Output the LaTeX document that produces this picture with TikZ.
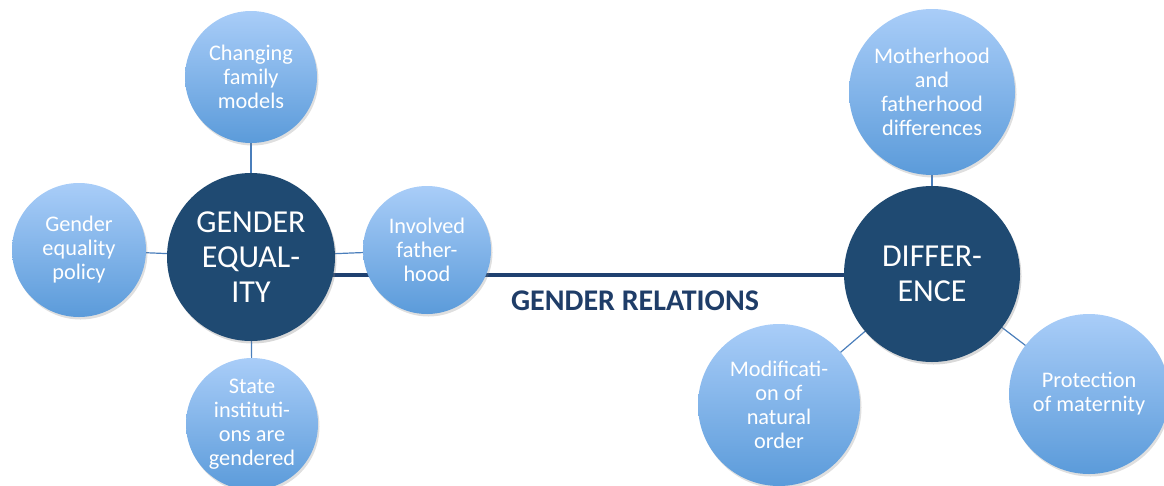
\documentclass[tikz,border=0pt]{standalone}
\usepackage{fontspec}
\setmainfont{Carlito}
\usetikzlibrary{shadows,backgrounds}
\definecolor{navy}{HTML}{1F4A72}
\definecolor{navyline}{HTML}{1F4170}
\definecolor{navytext}{HTML}{1F3D68}
\definecolor{lighttop}{HTML}{A9CDF8}
\definecolor{lightbot}{HTML}{5B9BDA}
\definecolor{thinline}{HTML}{4A7EBB}
\tikzset{
  small/.style={circle, inner sep=0pt, top color=lighttop, bottom color=lightbot,
    text=white, align=center, font=\fontsize{22.3}{24}\selectfont,
    drop shadow={shadow xshift=1.5pt, shadow yshift=-2.5pt, opacity=0.25}},
  big/.style={circle, inner sep=0pt, fill=navy, text=white, align=center,
    font=\fontsize{32}{35}\selectfont,
    drop shadow={shadow xshift=1.5pt, shadow yshift=-2.5pt, opacity=0.3}},
  thin/.style={draw=thinline, line width=1.2pt},
  relline/.style={draw=navyline, line width=3.5pt},
}
\begin{document}
\begin{tikzpicture}[x=1pt,y=-1pt]
\useasboundingbox (0,0) rectangle (1164,485);
% left cluster
\node[small, minimum size=132] (cfm) at (251,77) {Changing\\family\\models};
\node[small, minimum size=134] (gep) at (79,250) {Gender\\equality\\policy};
\node[small, minimum size=132] (sig) at (252,424) {State\\instituti-\\ons are\\gendered};
\node[big, minimum size=168] (ge) at (251,257) {GENDER\\EQUAL-\\ITY};
\node[small, minimum size=128] (inv) at (427,250) {Involved\\father-\\hood};
% right cluster
\node[small, minimum size=166] (mfd) at (932,92) {Motherhood\\and\\fatherhood\\differences};
\node[small, minimum size=162] (mno) at (779,405) {Modificati-\\on of\\natural\\order};
\node[small, minimum size=160] (pom) at (1089,394) {Protection\\of maternity};
\node[big, minimum size=176] (diff) at (932,274) {DIFFER-\\ENCE};
% label
\node[text=navytext, font=\fontsize{30}{34}\selectfont\bfseries] (rel) at (635,301) {GENDER RELATIONS};
\coordinate (relrow) at (0,275);
\begin{scope}[on background layer]
  \draw[relline] (ge.center |- relrow) -- (diff.center |- relrow);
  \draw[thin] (ge) -- (cfm);
  \draw[thin] (ge) -- (gep);
  \draw[thin] (ge) -- (sig);
  \draw[thin] (ge.center) -- (inv.center);
  \draw[thin] (diff) -- (mfd);
  \draw[thin] (diff.center) -- (mno.center);
  \draw[thin] (diff.center) -- (pom.center);
\end{scope}
\end{tikzpicture}
\end{document}
